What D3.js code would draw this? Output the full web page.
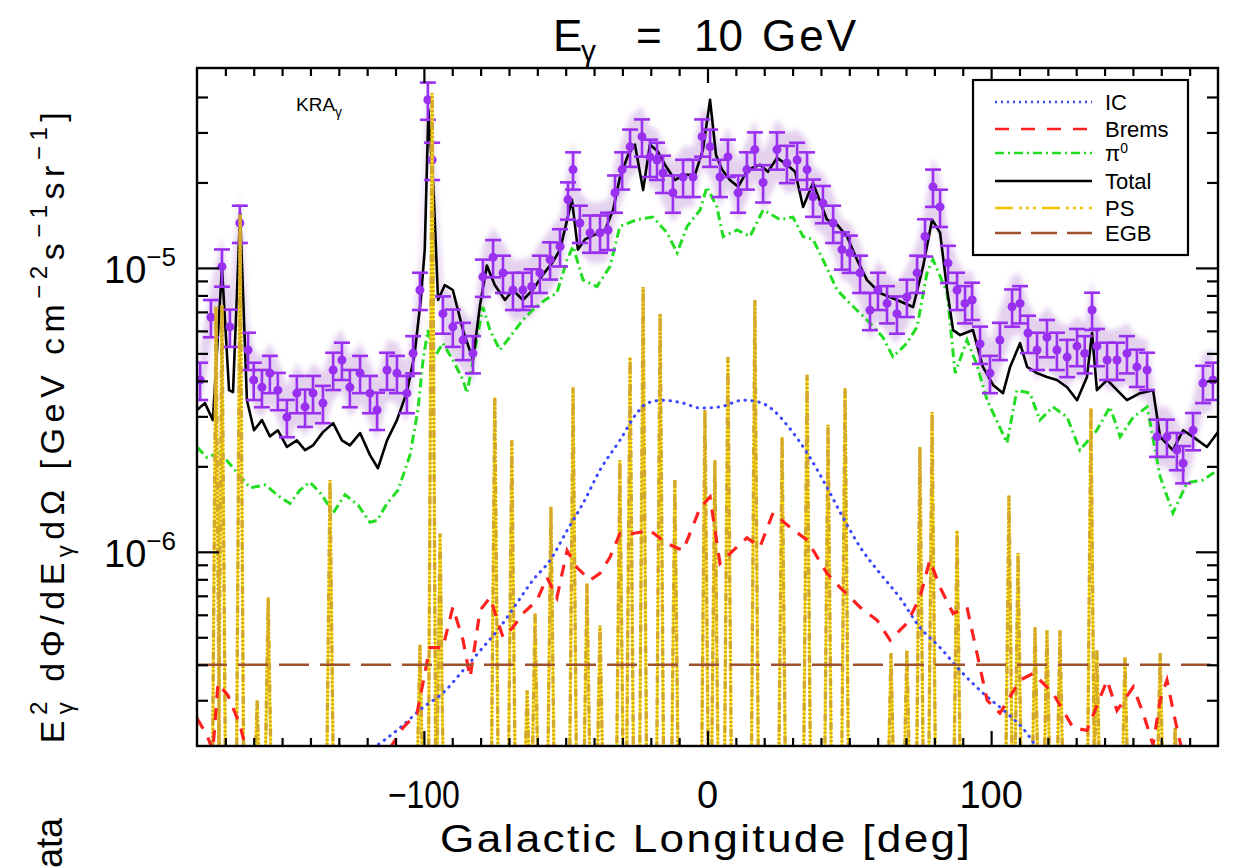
<!DOCTYPE html>
<html>
<head>
<meta charset="utf-8">
<title>E gamma = 10 GeV</title>
<script src="https://d3js.org/d3.v7.min.js"></script>
<style>
body { margin: 0; background: white; font-family: "Liberation Sans", Arial, sans-serif; }
text { fill: black; }
</style>
</head>
<body>
<script>
// values: longitude [deg], flux [GeV cm^-2 s^-1 sr^-1]

// data points (purple, with error bars)
var dataLon = [
  -178.9,-175.1,-171.2,-168.4,-164.9,-162.0,-160.0,-157.1,-154.3,-151.5,
  -148.3,-144.8,-141.9,-139.1,-135.6,-132.0,-128.9,-126.1,-122.5,-119.0,
  -116.5,-113.0,-109.5,-106.0,-103.8,-101.4,-98.6,-97.1,-93.3,-89.8,
  -86.2,-82.7,-79.2,-75.6,-72.1,-68.6,-65.1,-62.0,-59.1,-55.5,
  -52.0,-49.2,-47.4,-45.0,-41.4,-37.9,-35.1,-32.6,-30.1,-27.3,
  -23.1,-20.3,-17.8,-15.7,-12.2,-8.6,-5.1,-1.9,0.9,4.4,
  7.2,10.8,13.9,16.7,19.6,24.5,28.0,31.6,35.1,37.2,
  40.7,44.3,47.4,50.2,53.8,57.3,60.1,63.3,66.8,70.3,
  73.9,76.7,79.5,82.0,84.8,88.0,90.8,93.3,96.1,99.6,
  103.1,107.4,110.2,113.0,116.2,119.7,123.2,126.8,130.3,133.0,
  135.6,137.3,140.9,144.4,147.9,151.4,155.0,158.5,162.0,165.5,
  167.7,171.2,174.7,178.2
];
var dataVal = [
  4.03e-6,6.7e-6,1.01e-5,6.2e-6,1.44e-5,5.14e-6,4.03e-6,3.8e-6,4.26e-6,3.71e-6,
  2.98e-6,3.62e-6,3.24e-6,3.62e-6,3.34e-6,4.37e-6,4.74e-6,3.8e-6,4.26e-6,3.62e-6,
  3.16e-6,4.37e-6,4.26e-6,3.62e-6,5.0e-6,8.36e-6,3.91e-5,2.4e-5,6.9e-6,6.2e-6,
  5.57e-6,5.0e-6,9.3e-6,1.09e-5,9.6e-6,8.36e-6,8.36e-6,8.6e-6,9.6e-6,1.07e-5,
  1.19e-5,1.74e-5,2.22e-5,1.44e-5,1.33e-5,1.33e-5,1.36e-5,1.84e-5,2.22e-5,2.67e-5,
  2.9e-5,2.46e-5,2.4e-5,2.16e-5,1.84e-5,2.09e-5,2.09e-5,2.9e-5,2.67e-5,2.09e-5,
  2.46e-5,1.84e-5,2.22e-5,2.61e-5,2.0e-5,2.61e-5,2.34e-5,2.4e-5,2.22e-5,1.78e-5,
  1.69e-5,1.44e-5,1.16e-5,1.13e-5,9.6e-6,7.1e-6,8.36e-6,7.5e-6,6.9e-6,7.9e-6,
  9.6e-6,1.29e-5,1.93e-5,1.64e-5,1.04e-5,8.36e-6,7.5e-6,7.71e-6,5.4e-6,4.26e-6,
  5.57e-6,7.3e-6,7.5e-6,5.9e-6,5.14e-6,5.7e-6,5.14e-6,4.85e-6,5.3e-6,5.0e-6,
  7.11e-6,5.3e-6,4.74e-6,4.74e-6,5.0e-6,4.48e-6,4.37e-6,2.54e-6,2.54e-6,2.28e-6,
  2.05e-6,2.68e-6,3.93e-6,4.03e-6
];
var dataErr = 0.15;   // relative error bar half height

// total model (black)
var totalLon = [
  -180.0,-177.2,-174.4,-171.2,-168.7,-167.3,-164.8,-162.4,-159.9,-157.1,
  -154.3,-151.5,-148.3,-144.8,-141.9,-139.1,-135.6,-132.0,-128.9,-126.1,
  -122.5,-119.0,-116.2,-113.0,-109.5,-106.0,-103.3,-101.1,-99.7,-98.4,
  -96.6,-95.0,-92.6,-89.8,-86.2,-82.7,-80.2,-77.8,-75.0,-71.4,
  -68.6,-65.1,-61.6,-58.1,-54.5,-52.0,-49.9,-47.8,-45.7,-43.2,
  -39.7,-36.1,-33.3,-30.9,-28.0,-25.6,-22.7,-20.3,-17.5,-15.0,
  -11.5,-8.0,-4.4,-1.6,0.9,3.0,5.1,7.9,10.8,13.2,
  15.7,18.5,21.3,24.5,28.0,30.9,33.7,37.2,42.1,45.7,
  49.2,52.7,56.2,60.8,66.8,72.5,76.0,79.2,82.0,84.5,
  86.6,89.1,93.6,97.1,100.7,104.2,106.7,110.2,112.7,116.2,
  119.7,123.2,126.8,130.3,133.8,135.6,137.3,140.9,144.4,147.9,
  152.5,157.1,159.6,164.1,167.7,171.2,176.1,180.0
];
var totalVal = [
  3.16e-6,3.34e-6,2.91e-6,1.0e-5,3.71e-6,3.65e-6,1.56e-5,3.42e-6,2.68e-6,2.91e-6,
  2.55e-6,2.68e-6,2.34e-6,2.47e-6,2.28e-6,2.37e-6,2.64e-6,2.84e-6,2.47e-6,2.37e-6,
  2.62e-6,2.19e-6,1.97e-6,2.47e-6,2.91e-6,3.65e-6,4.94e-6,7.71e-6,1.16e-5,3.61e-5,
  1.88e-5,7.71e-6,8.7e-6,8.36e-6,6.04e-6,4.74e-6,7.4e-6,1.02e-5,8.7e-6,7.71e-6,
  8.36e-6,7.71e-6,8.36e-6,9.45e-6,1.05e-5,1.16e-5,1.42e-5,1.74e-5,1.16e-5,1.26e-5,
  1.31e-5,1.36e-5,1.6e-5,2.08e-5,2.5e-5,2.72e-5,1.88e-5,2.72e-5,2.57e-5,2.31e-5,
  2.04e-5,2.13e-5,2.13e-5,2.61e-5,3.91e-5,2.5e-5,2.22e-5,2.04e-5,1.93e-5,2.13e-5,
  2.25e-5,2.31e-5,2.18e-5,2.44e-5,2.31e-5,2.18e-5,1.64e-5,1.99e-5,1.48e-5,1.42e-5,
  1.29e-5,1.07e-5,9.07e-6,8.16e-6,7.71e-6,7.28e-6,1.01e-5,1.48e-5,1.33e-5,8.36e-6,
  6.04e-6,5.8e-6,6.04e-6,4.48e-6,3.87e-6,3.62e-6,4.48e-6,5.43e-6,4.48e-6,4.26e-6,
  4.13e-6,4.03e-6,3.8e-6,3.42e-6,4.13e-6,5.9e-6,3.71e-6,4.03e-6,3.71e-6,3.42e-6,
  3.62e-6,3.71e-6,2.54e-6,2.28e-6,2.68e-6,2.54e-6,2.34e-6,2.64e-6
];

// pi0 decay (green)
var piLon = [
  -180.0,-176.5,-171.9,-166.6,-161.3,-156.0,-150.7,-147.2,-143.7,-140.2,
  -136.0,-132.0,-127.8,-123.2,-119.0,-116.5,-113.0,-109.1,-104.9,-102.1,
  -100.3,-98.6,-96.8,-93.3,-89.8,-86.2,-84.8,-82.0,-79.2,-76.7,
  -73.2,-68.6,-65.1,-61.6,-57.3,-53.1,-49.5,-47.4,-43.9,-39.0,
  -34.4,-30.9,-24.9,-19.2,-14.3,-10.7,-7.2,-2.6,-0.2,3.3,
  5.5,10.4,15.0,19.6,25.6,30.1,33.7,37.2,40.7,45.7,
  50.2,56.2,61.8,65.4,70.3,73.9,77.4,79.5,84.5,87.3,
  91.5,95.0,98.6,105.6,109.1,113.7,117.2,121.8,126.8,131.3,
  137.3,141.9,145.5,150.1,155.0,159.6,164.1,169.1,174.7,180.0
];
var piVal = [
  2.34e-6,2.15e-6,2.24e-6,1.94e-6,1.68e-6,1.72e-6,1.56e-6,1.48e-6,1.65e-6,1.76e-6,
  1.59e-6,1.37e-6,1.59e-6,1.46e-6,1.27e-6,1.29e-6,1.48e-6,1.65e-6,2.19e-6,3.16e-6,
  4.74e-6,6.04e-6,4.74e-6,5.43e-6,4.74e-6,4.03e-6,3.62e-6,5.14e-6,7.28e-6,6.04e-6,
  5.14e-6,5.9e-6,6.56e-6,7.11e-6,7.71e-6,8.16e-6,1.07e-5,1.19e-5,9.07e-6,8.6e-6,
  1.01e-5,1.4e-5,1.48e-5,1.51e-5,1.33e-5,1.13e-5,1.4e-5,1.6e-5,1.93e-5,1.64e-5,
  1.29e-5,1.36e-5,1.29e-5,1.6e-5,1.48e-5,1.51e-5,1.29e-5,1.26e-5,1.07e-5,8.36e-6,
  7.5e-6,6.56e-6,5.71e-6,4.86e-6,5.43e-6,6.2e-6,9.6e-6,1.07e-5,8.16e-6,4.26e-6,
  5.57e-6,4.55e-6,3.42e-6,2.42e-6,3.71e-6,3.62e-6,2.91e-6,3.24e-6,2.98e-6,2.28e-6,
  2.68e-6,3.24e-6,2.54e-6,2.98e-6,3.24e-6,1.84e-6,1.37e-6,1.75e-6,1.79e-6,1.94e-6
];

// inverse Compton (blue)
var icLon = [-118.0,-109.5,-100.3,-93.3,-86.2,-79.2,-73.2,-67.2,-61.6,-55.5,
  -49.5,-43.9,-37.9,-30.9,-24.9,-21.3,-15.7,-8.6,-2.6,4.4,
  12.5,18.5,23.1,28.0,35.1,42.1,47.8,53.8,60.8,67.8,
  74.9,82.0,89.1,97.1,105.6,112.7,116.2];
var icVal = [2.03e-7,2.35e-7,2.83e-7,3.18e-7,3.82e-7,4.6e-7,5.42e-7,6.6e-7,7.94e-7,9.34e-7,
  1.19e-6,1.48e-6,1.94e-6,2.47e-6,3.08e-6,3.34e-6,3.42e-6,3.34e-6,3.21e-6,3.24e-6,
  3.42e-6,3.36e-6,3.16e-6,2.8e-6,2.23e-6,1.69e-6,1.32e-6,1.04e-6,8.4e-7,6.9e-7,
  5.42e-7,4.6e-7,3.82e-7,3.18e-7,2.7e-7,2.29e-7,2.03e-7];

// bremsstrahlung (red); null = below the frame
var bremsLon = [
  -180.0,-176.5,-174.4,-172.6,-169.1,-164.8,-162.4,-140.0,-112.0,-107.4,
  -102.4,-97.9,-93.3,-89.8,-86.2,-83.7,-80.2,-76.7,-72.1,-68.6,
  -65.1,-60.1,-56.6,-53.1,-49.5,-46.0,-41.4,-37.9,-34.4,-30.9,
  -26.3,-20.3,-14.3,-8.6,-2.6,0.9,4.4,9.0,13.9,18.5,
  23.1,29.1,35.1,42.1,46.7,53.8,59.8,64.4,70.3,74.9,
  78.4,82.0,86.6,91.5,95.0,98.6,103.1,110.2,114.8,121.8,
  128.9,133.8,140.9,144.4,150.1,153.6,157.1,159.6,162.0,164.9,167.3
];
var bremsVal = [
  2.59e-7,2.26e-7,2.0e-7,3.44e-7,3.12e-7,2.45e-7,1.95e-7,null,2.03e-7,2.4e-7,
  2.7e-7,4.6e-7,4.6e-7,6.38e-7,4.88e-7,3.61e-7,6.22e-7,6.9e-7,5.0e-7,5.42e-7,
  6.06e-7,6.75e-7,8.13e-7,6.9e-7,1.01e-6,8.8e-7,7.94e-7,8.4e-7,9.56e-7,1.16e-6,
  1.16e-6,1.19e-6,1.07e-6,1.01e-6,1.43e-6,1.56e-6,9.1e-7,1.01e-6,1.12e-6,1.04e-6,
  1.37e-6,1.22e-6,1.1e-6,8.4e-7,7.5e-7,6.38e-7,5.74e-7,4.88e-7,5.6e-7,6.9e-7,
  9.34e-7,7.5e-7,6.06e-7,6.38e-7,4.4e-7,3.0e-7,2.7e-7,3.53e-7,3.73e-7,3.18e-7,
  2.4e-7,2.35e-7,3.53e-7,2.76e-7,3.34e-7,2.7e-7,2.09e-7,3.0e-7,3.53e-7,2.55e-7,2.0e-7
];

// point sources (spikes) and extragalactic background
var psLon = [-173.3,-171.2,-164.8,-158.8,-154.9,-133.1,-101.4,-97.1,-94.3,-75.0,
  -69.0,-63.6,-60.8,-55.2,-47.4,-42.5,-37.9,-30.9,-27.3,-22.7,
  -16.7,-11.5,-0.9,2.6,7.2,16.7,26.3,35.1,42.5,48.5,
  64.7,70.3,74.9,79.2,88.0,106.3,109.5,115.5,119.7,124.3,
  135.2,137.3,147.2,159.6,164.9];
var psPeak = [7.3e-6,7.4e-6,1.54e-5,3.0e-7,6.9e-7,1.79e-6,4.7e-7,4.13e-5,1.16e-6,3.5e-6,
  2.47e-6,3.25e-7,6.06e-7,1.44e-6,3.8e-6,7.75e-7,5.5e-7,2.1e-6,4.85e-6,8.57e-6,
  6.9e-6,1.79e-6,3.16e-6,2.1e-6,4.85e-6,7.71e-6,2.54e-6,4.2e-6,2.8e-6,3.77e-6,
  4.4e-7,4.5e-7,2.34e-6,3.11e-6,1.19e-6,1.58e-6,9.9e-7,5.42e-7,5.29e-7,5.29e-7,
  3.21e-6,4.5e-7,4.25e-7,4.4e-7,2.4e-7];
var psFloor = 1e-7;
var egbVal = 4.0e-7;

var xMajor = [-100, 0, 100];
var xTickLabels = ["\u2212100", "0", "100"];
var yMajor = [1e-6, 1e-5];
var yTickExp = ["\u22126", "\u22125"];
var yMinor = [3e-7,4e-7,5e-7,6e-7,7e-7,8e-7,9e-7,
  2e-6,3e-6,4e-6,5e-6,6e-6,7e-6,8e-6,9e-6,2e-5,3e-5,4e-5];

var legendNames = ["IC", "Brems", "\u03c0", "Total", "PS", "EGB"];
var legendColors = ["#3a48ff", "#ff2020", "#22dd22", "#000000", "#f5c400", "#a0522d"];
var legendDash = ["2,4", "14,12", "9,4,2,4", "none", "18,6,3,4,3,4,3,6", "26,10"];

var width = 1241, height = 868;
var L = 197, R = 1218, T = 68, B = 746;

var svg = d3.select("body").append("svg")
  .attr("width", width).attr("height", height);

var x = d3.scaleLinear().domain([-180, 180]).range([L, R]);
var y = d3.scaleLog().domain([2.07e-7, 5.06e-5]).range([B, T]);

var defs = svg.append("defs");
defs.append("clipPath").attr("id", "plot")
  .append("rect").attr("x", L).attr("y", T).attr("width", R - L).attr("height", B - T);
defs.append("filter").attr("id", "soft").attr("x", "-5%").attr("y", "-20%")
  .attr("width", "110%").attr("height", "140%")
  .append("feGaussianBlur").attr("stdDeviation", 2.5);

var g = svg.append("g").attr("clip-path", "url(#plot)");

function pts(lons, vals) {
  return lons.map(function(l, i) { return [l, vals[i]]; });
}
var line = d3.line()
  .defined(function(d) { return d[1] != null; })
  .x(function(d) { return x(d[0]); })
  .y(function(d) { return y(d[1]); });

// shaded band around the data
var data = pts(dataLon, dataVal);
g.append("path")
  .datum(data)
  .attr("fill", "#c9a4de")
  .attr("opacity", 0.5)
  .attr("filter", "url(#soft)")
  .attr("d", d3.area()
    .x(function(d) { return x(d[0]); })
    .y0(function(d) { return y(d[1] / 1.28); })
    .y1(function(d) { return y(d[1] * 1.28); }));

// pi0
g.append("path").datum(pts(piLon, piVal))
  .attr("fill", "none").attr("stroke", "#22dd22").attr("stroke-width", 3)
  .attr("stroke-dasharray", "9,4,2,4").attr("d", line);

// total
g.append("path").datum(pts(totalLon, totalVal))
  .attr("fill", "none").attr("stroke", "black").attr("stroke-width", 2.6)
  .attr("stroke-linejoin", "round").attr("d", line);

// data with error bars
var dg = g.append("g").attr("stroke", "#9a30ef").attr("stroke-width", 2.6);
dg.selectAll("line.bar").data(data).enter().append("line")
  .attr("x1", function(d) { return x(d[0]); })
  .attr("x2", function(d) { return x(d[0]); })
  .attr("y1", function(d) { return y(d[1] * (1 - dataErr)); })
  .attr("y2", function(d) { return y(d[1] * (1 + dataErr)); });
[1 - dataErr, 1 + dataErr].forEach(function(f) {
  dg.selectAll(null).data(data).enter().append("line")
    .attr("x1", function(d) { return x(d[0]) - 8; })
    .attr("x2", function(d) { return x(d[0]) + 8; })
    .attr("y1", function(d) { return y(d[1] * f); })
    .attr("y2", function(d) { return y(d[1] * f); });
});
dg.selectAll("circle").data(data).enter().append("circle")
  .attr("cx", function(d) { return x(d[0]); })
  .attr("cy", function(d) { return y(d[1]); })
  .attr("r", 4.5).attr("fill", "#9a30ef").attr("stroke", "none");

// point sources: each spike rises from below the frame
var spikes = [];
psLon.forEach(function(l, i) {
  spikes.push([l - 1.4, psFloor], [l, psPeak[i]], [l + 1.4, psFloor]);
});
g.append("path").datum(spikes)
  .attr("fill", "none").attr("stroke", "#ffe600").attr("stroke-width", 2.4)
  .attr("d", line);
g.append("path").datum(spikes)
  .attr("fill", "none").attr("stroke", "#d4a82a").attr("stroke-width", 3.4)
  .attr("stroke-dasharray", "8,2,2,2,2,2,2,2").attr("d", line);

// IC
g.append("path").datum(pts(icLon, icVal))
  .attr("fill", "none").attr("stroke", "#3a48ff").attr("stroke-width", 3)
  .attr("stroke-linecap", "round").attr("stroke-dasharray", "0.5,6.5")
  .attr("d", line.curve(d3.curveMonotoneX));
line.curve(d3.curveLinear);

// Brems
g.append("path").datum(pts(bremsLon, bremsVal))
  .attr("fill", "none").attr("stroke", "#ff2020").attr("stroke-width", 3.2)
  .attr("stroke-dasharray", "12,10").attr("d", line);

// EGB
g.append("line")
  .attr("x1", L).attr("x2", R).attr("y1", y(egbVal)).attr("y2", y(egbVal))
  .attr("stroke", "#a0522d").attr("stroke-width", 2.4)
  .attr("stroke-dasharray", "30,11");

// frame and ticks
svg.append("rect").attr("x", L).attr("y", T).attr("width", R - L).attr("height", B - T)
  .attr("fill", "none").attr("stroke", "black").attr("stroke-width", 2.4);

var xMinor = d3.range(-170, 180, 10).filter(function(v) { return xMajor.indexOf(v) < 0; });
function ticks(axis, tr, vals, len) {
  svg.append("g").attr("transform", tr)
    .call(axis.tickValues(vals).tickSize(-len).tickSizeOuter(0).tickFormat(""))
    .call(function(s) {
      s.select(".domain").remove();
      s.selectAll("line").attr("stroke-width", 2.2);
    });
}
ticks(d3.axisBottom(x), "translate(0," + B + ")", xMajor, 15);
ticks(d3.axisBottom(x), "translate(0," + B + ")", xMinor, 8);
ticks(d3.axisTop(x), "translate(0," + T + ")", xMajor, 15);
ticks(d3.axisTop(x), "translate(0," + T + ")", xMinor, 8);
ticks(d3.axisLeft(y), "translate(" + L + ",0)", yMajor, 22);
ticks(d3.axisLeft(y), "translate(" + L + ",0)", yMinor, 11);
ticks(d3.axisRight(y), "translate(" + R + ",0)", yMajor, 22);
ticks(d3.axisRight(y), "translate(" + R + ",0)", yMinor, 11);

// tick labels
svg.selectAll("text.xt").data(xMajor).enter().append("text")
  .attr("x", function(d) { return x(d); })
  .attr("y", 808)
  .attr("text-anchor", "middle")
  .attr("font-size", 38)
  .text(function(d, i) { return xTickLabels[i]; })
  .each(function(d, i) {
    if (i === 0) d3.select(this).attr("textLength", 72).attr("lengthAdjust", "spacingAndGlyphs");
  });

yMajor.forEach(function(v, i) {
  var t = svg.append("text").attr("x", 104).attr("y", y(v) + 15).attr("font-size", 38);
  t.append("tspan").text("10");
  t.append("tspan").attr("font-size", 26).attr("dy", -17).text(yTickExp[i]);
});

// title
var title = svg.append("text").attr("y", 51).attr("font-size", 44);
title.append("tspan").attr("x", 553).text("E");
title.append("tspan").attr("x", 581).attr("dy", 10).attr("font-size", 30).text("\u03b3");
title.append("tspan").attr("x", 636).attr("dy", -10).text("=");
title.append("tspan").attr("x", 694).text("10");
title.append("tspan").attr("x", 762).attr("letter-spacing", 3).text("GeV");

// x axis title
svg.append("text").attr("x", 706).attr("y", 852)
  .attr("text-anchor", "middle").attr("font-size", 38)
  .attr("letter-spacing", 2)
  .attr("textLength", 532).attr("lengthAdjust", "spacingAndGlyphs")
  .text("Galactic Longitude [deg]");

// y axis title
var yl = svg.append("text")
  .attr("transform", "translate(64,425) rotate(-90)")
  .attr("text-anchor", "middle").attr("font-size", 34)
  .attr("letter-spacing", 5.5);
yl.append("tspan").text("E");
yl.append("tspan").attr("font-size", 24).attr("dy", -17).text("2");
yl.append("tspan").attr("font-size", 24).attr("dx", -18).attr("dy", 26).text("\u03b3");
yl.append("tspan").attr("dy", -9).text(" d\u03a6/dE");
yl.append("tspan").attr("font-size", 24).attr("dy", 9).text("\u03b3");
yl.append("tspan").attr("dy", -9).text("d\u03a9  [GeV cm");
yl.append("tspan").attr("font-size", 24).attr("dy", -17).text("\u22122");
yl.append("tspan").attr("dy", 17).text("s");
yl.append("tspan").attr("font-size", 24).attr("dy", -17).text("\u22121");
yl.append("tspan").attr("dy", 17).text("sr");
yl.append("tspan").attr("font-size", 24).attr("dy", -17).text("\u22121");
yl.append("tspan").attr("dy", 17).text("]");

// label of the neighbouring panel, cut by the page edge
svg.append("text").attr("transform", "translate(62,894) rotate(-90)")
  .attr("font-size", 36).text("Data");

// model label
var kra = svg.append("text").attr("x", 296).attr("y", 111).attr("font-size", 19);
kra.append("tspan").text("KRA");
kra.append("tspan").attr("font-size", 14).attr("dy", 6).text("\u03b3");

// legend
var lg = svg.append("g");
lg.append("rect").attr("x", 973).attr("y", 80).attr("width", 215).attr("height", 175)
  .attr("fill", "white").attr("stroke", "black").attr("stroke-width", 2.2);
var rowY = [102, 129, 153, 181, 208, 233];
legendNames.forEach(function(name, i) {
  lg.append("line").attr("x1", 995).attr("x2", 1092).attr("y1", rowY[i]).attr("y2", rowY[i])
    .attr("stroke", legendColors[i]).attr("stroke-width", 2.6)
    .attr("stroke-dasharray", legendDash[i]);
  var t = lg.append("text").attr("x", 1105).attr("y", rowY[i] + 8).attr("font-size", 22).text(name);
  if (i === 2) t.append("tspan").attr("font-size", 14).attr("dy", -8).text("0");
});
</script>
</body>
</html>
